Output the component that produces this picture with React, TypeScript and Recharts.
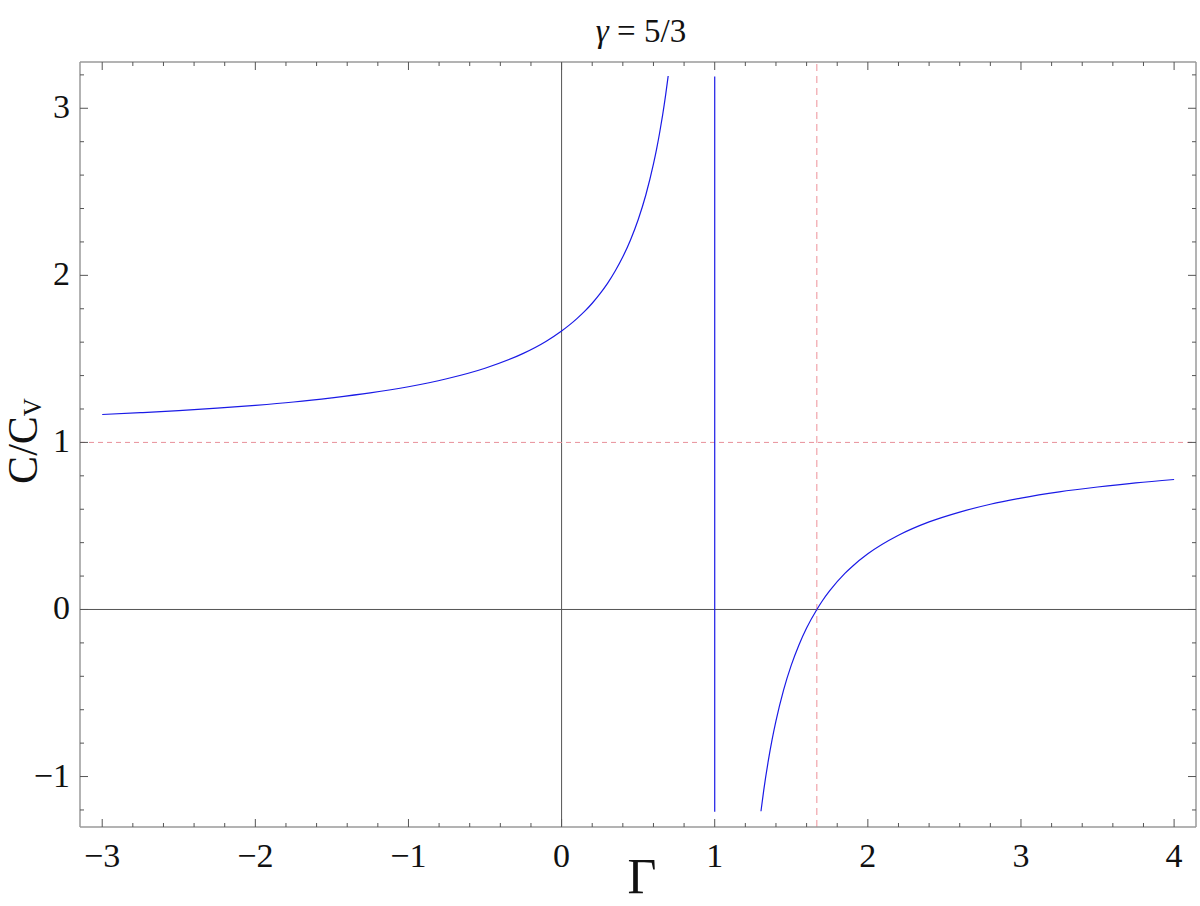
import { LineChart, Line, XAxis, YAxis, ReferenceLine } from "recharts";

// Γ values and C/Cv
const leftGamma = [-3, -2.75, -2.5, -2.25, -2, -1.75, -1.5, -1.25, -1, -0.75, -0.5, -0.25, -0.1, 0, 0.05, 0.1, 0.15, 0.2, 0.25, 0.3, 0.35, 0.4, 0.45, 0.5, 0.55, 0.6, 0.62, 0.64, 0.66, 0.67, 0.68, 0.696];
const leftC = [1.167, 1.178, 1.19, 1.205, 1.222, 1.242, 1.267, 1.296, 1.333, 1.381, 1.444, 1.533, 1.606, 1.667, 1.702, 1.741, 1.784, 1.833, 1.889, 1.952, 2.026, 2.111, 2.212, 2.333, 2.481, 2.667, 2.754, 2.852, 2.961, 3.02, 3.083, 3.193];

const rightGamma = [1.302, 1.32, 1.35, 1.375, 1.4, 1.45, 1.5, 1.55, 1.6, 1.667, 1.7, 1.75, 1.85, 1.9, 2, 2.2, 2.4, 2.6, 2.8, 3, 3.25, 3.5, 3.75, 4];
const rightC = [-1.208, -1.083, -0.905, -0.778, -0.667, -0.481, -0.333, -0.212, -0.111, 0, 0.048, 0.111, 0.216, 0.259, 0.333, 0.444, 0.524, 0.583, 0.63, 0.667, 0.704, 0.733, 0.758, 0.778];

const jumpGamma = [1, 1];
const jumpC = [3.19, -1.21];

const xMajor = [-3, -2, -1, 0, 1, 2, 3, 4];
const xMinor = [-2.8, -2.6, -2.4, -2.2, -1.8, -1.6, -1.4, -1.2, -0.8, -0.6, -0.4, -0.2, 0.2, 0.4, 0.6, 0.8, 1.2, 1.4, 1.6, 1.8, 2.2, 2.4, 2.6, 2.8, 3.2, 3.4, 3.6, 3.8];
const yMajor = [-1, 0, 1, 2, 3];
const yMinor = [-1.2, -0.8, -0.6, -0.4, -0.2, 0.2, 0.4, 0.6, 0.8, 1.2, 1.4, 1.6, 1.8, 2.2, 2.4, 2.6, 2.8, 3.2];

const gammaValue = 5 / 3;

const zip = (g: number[], c: number[]) => g.map((v, i) => ({ g: v, c: c[i] }));
const leftData = zip(leftGamma, leftC);
const rightData = zip(rightGamma, rightC);
const jumpData = zip(jumpGamma, jumpC);

const xTicks = [...xMajor, ...xMinor].sort((a, b) => a - b);
const yTicks = [...yMajor, ...yMinor].sort((a, b) => a - b);

const FONT = "'Liberation Serif', 'DejaVu Serif', serif";
const FRAME = "#9a9a9a";
const TICK = "#555";
const X_DOMAIN = [-3.145, 4.143];
const Y_DOMAIN = [-1.302, 3.277];

const fmt = (v: number) => (v < 0 ? "\u2212" + Math.abs(v) : String(v));

function FrameTick(props: any) {
  const { x, y, payload, side, major } = props;
  const v = payload.value;
  const isMajor = major.includes(v);
  const len = isMajor ? 8 : 4;
  if (side === "bottom") {
    return (
      <g>
        <line x1={x} y1={y} x2={x} y2={y - len} stroke={TICK} strokeWidth={1} />
        {isMajor && (
          <text x={x} y={y + 40} textAnchor="middle" fontFamily={FONT} fontSize={34} fill="#111">
            {fmt(v)}
          </text>
        )}
      </g>
    );
  }
  if (side === "top") {
    return <line x1={x} y1={y} x2={x} y2={y + len} stroke={TICK} strokeWidth={1} />;
  }
  if (side === "left") {
    return (
      <g>
        <line x1={x} y1={y} x2={x + len} y2={y} stroke={TICK} strokeWidth={1} />
        {isMajor && (
          <text x={x - 10} y={y + 10} textAnchor="end" fontFamily={FONT} fontSize={34} fill="#111">
            {fmt(v)}
          </text>
        )}
      </g>
    );
  }
  return <line x1={x} y1={y} x2={x - len} y2={y} stroke={TICK} strokeWidth={1} />;
}

export default function App() {
  return (
    <div style={{ position: "absolute", left: 0, top: 0, width: 1200, height: 906, background: "#fff" }}>
      <LineChart width={1200} height={906} margin={{ top: 61, right: 0, bottom: 0, left: 0 }}>
        <XAxis
          xAxisId="b"
          dataKey="g"
          type="number"
          domain={X_DOMAIN}
          allowDataOverflow
          ticks={xTicks}
          interval={0}
          height={79}
          tickSize={0}
          tickMargin={0}
          axisLine={{ stroke: FRAME, strokeWidth: 1.5 }}
          tick={<FrameTick side="bottom" major={xMajor} />}
        />
        <XAxis
          xAxisId="t"
          orientation="top"
          dataKey="g"
          type="number"
          domain={X_DOMAIN}
          allowDataOverflow
          ticks={xTicks}
          interval={0}
          height={1}
          tickSize={0}
          tickMargin={0}
          axisLine={{ stroke: FRAME, strokeWidth: 1.5 }}
          tick={<FrameTick side="top" major={xMajor} />}
        />
        <YAxis
          yAxisId="l"
          type="number"
          domain={Y_DOMAIN}
          allowDataOverflow
          ticks={yTicks}
          interval={0}
          width={80}
          tickSize={0}
          tickMargin={0}
          axisLine={{ stroke: FRAME, strokeWidth: 1.5 }}
          tick={<FrameTick side="left" major={yMajor} />}
        />
        <YAxis
          yAxisId="r"
          orientation="right"
          type="number"
          domain={Y_DOMAIN}
          allowDataOverflow
          ticks={yTicks}
          interval={0}
          width={4}
          tickSize={0}
          tickMargin={0}
          axisLine={{ stroke: FRAME, strokeWidth: 1.5 }}
          tick={<FrameTick side="right" major={yMajor} />}
        />
        <ReferenceLine xAxisId="b" yAxisId="l" x={0} stroke="#555" strokeWidth={1} />
        <ReferenceLine xAxisId="b" yAxisId="l" y={0} stroke="#555" strokeWidth={1} />
        <ReferenceLine xAxisId="b" yAxisId="l" y={1} stroke="#e8909a" strokeWidth={1} strokeDasharray="5 4" />
        <ReferenceLine xAxisId="b" yAxisId="l" x={gammaValue} stroke="#f0a4aa" strokeWidth={1.2} strokeDasharray="7 5" />
        <Line xAxisId="b" yAxisId="l" data={leftData} dataKey="c" type="monotone" stroke="#1a1ae6" strokeWidth={1.2} dot={false} isAnimationActive={false} />
        <Line xAxisId="b" yAxisId="l" data={jumpData} dataKey="c" type="linear" stroke="#1a1ae6" strokeWidth={1.2} dot={false} isAnimationActive={false} />
        <Line xAxisId="b" yAxisId="l" data={rightData} dataKey="c" type="monotone" stroke="#1a1ae6" strokeWidth={1.2} dot={false} isAnimationActive={false} />
        <text x={641} y={42} textAnchor="middle" fontFamily={FONT} fontSize={33} fill="#111">
          <tspan fontFamily={FONT} fontStyle="italic">γ</tspan>
          <tspan fontFamily={FONT}> = 5/3</tspan>
        </text>
        <text x={642} y={893} textAnchor="middle" fontFamily={FONT} fontSize={50} fill="#111">
          Γ
        </text>
        <text transform="translate(37,441) rotate(-90)" textAnchor="middle" fontFamily={FONT} fontSize={42} fill="#111">
          <tspan>C/C</tspan>
          <tspan fontSize={25} dy={4}>V</tspan>
        </text>
      </LineChart>
    </div>
  );
}
